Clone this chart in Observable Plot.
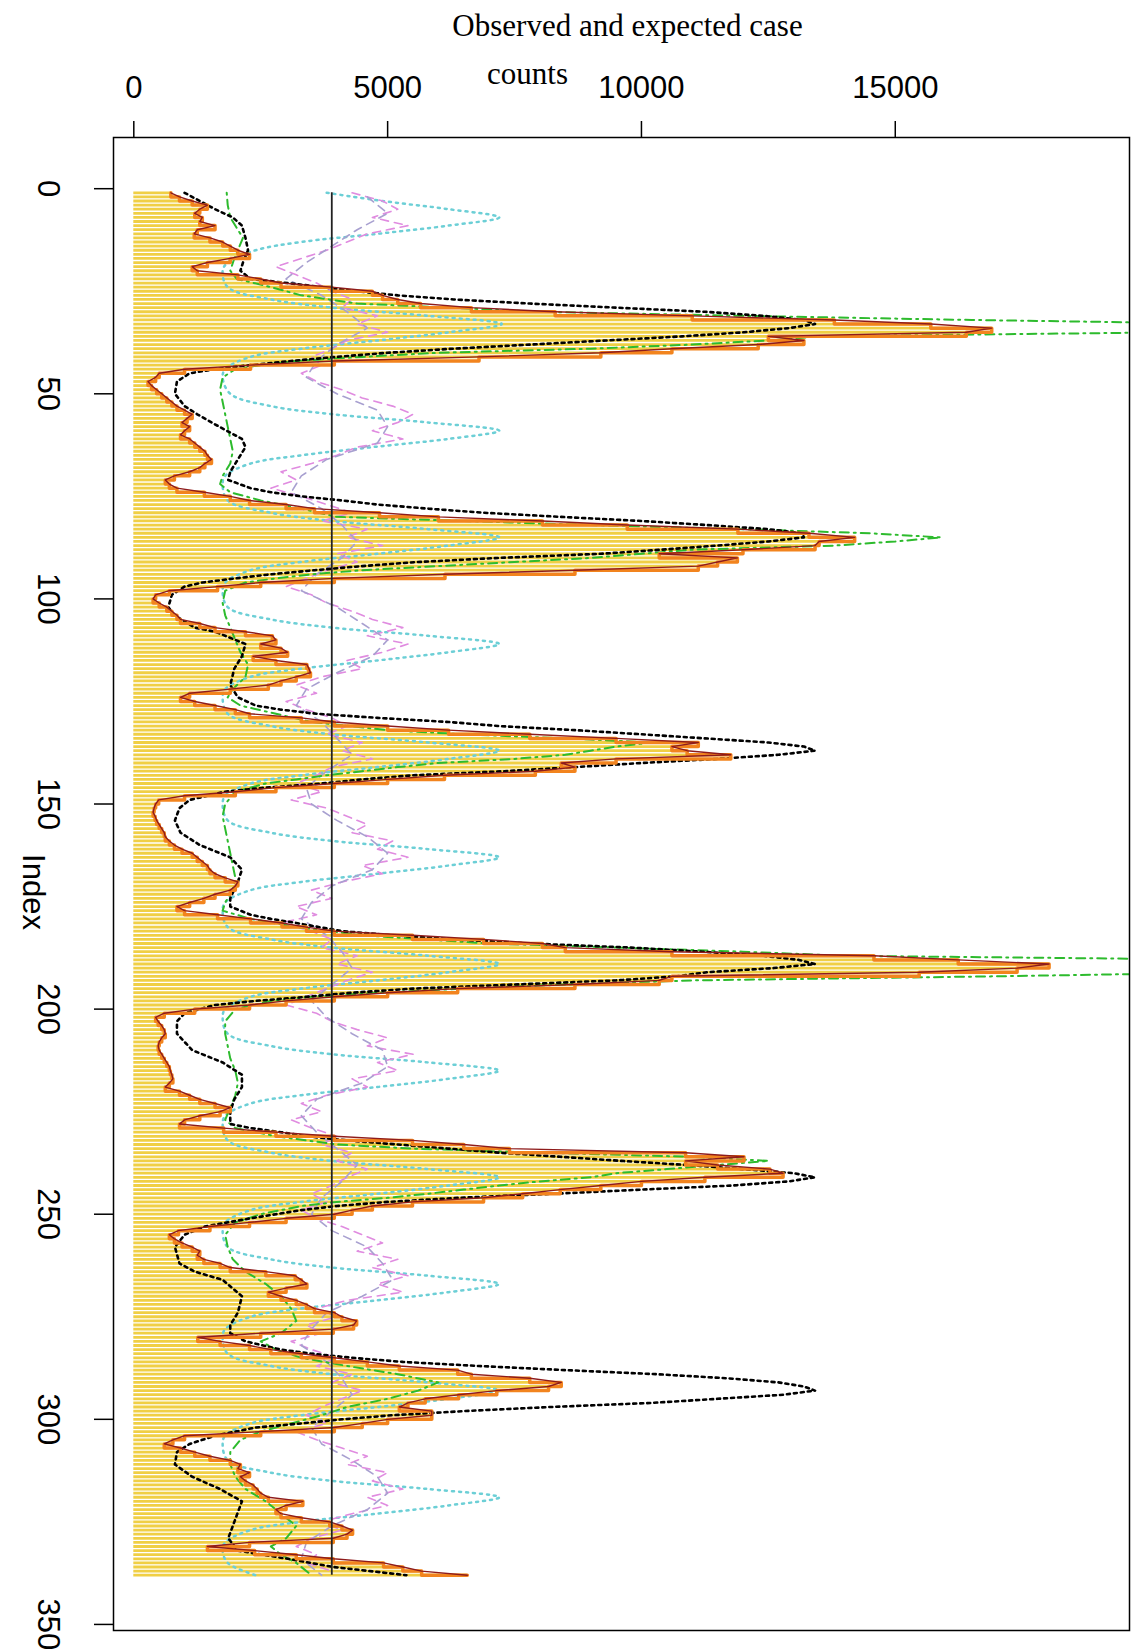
<!DOCTYPE html>
<html><head><meta charset="utf-8">
<script src="https://cdn.jsdelivr.net/npm/d3@7"></script>
<script src="https://cdn.jsdelivr.net/npm/@observablehq/plot@0.6"></script>
<style>body{margin:0;background:#fff}</style>
</head><body><div id="chart"></div>
<script>
const titleLine1 = "Observed and expected case";
const titleLine2 = "counts";
const yLabel = "Index";
const xTicks = [0, 5000, 10000, 15000];
const yTicks = [0, 50, 100, 150, 200, 250, 300, 350];
const threshold = 3900;

const index = d3.range(1, 339);
const observed = [
730,900,1150,1450,1300,1200,1350,1300,1600,1250,
1190,1500,1750,1900,2050,2280,1900,1450,1150,1250,
2050,2500,2900,3900,4700,4900,5200,5650,6650,8300,
11000,13800,15700,16900,16400,12500,13200,12300,10600,9200,
6800,3950,2300,1000,500,430,280,350,450,550,
650,750,850,1000,1150,1050,950,1100,1000,920,
1100,1200,1300,1400,1450,1530,1400,1300,1100,800,
620,700,850,1390,1900,2280,3000,3560,4840,6000,
8050,9720,11900,13300,14200,13500,13420,12000,10350,11890,
11500,11120,8690,6130,3950,2500,1650,700,430,380,
500,650,750,850,920,1300,1600,2200,2730,2800,
2500,2900,3030,2350,2800,3410,3450,3480,3200,2900,
2650,1900,1100,920,1200,1600,2000,2280,3300,3950,
5000,6200,7800,9500,11120,10600,10900,11760,9500,8420,
8690,7910,6120,5000,3950,2800,2000,1000,490,430,
400,380,420,450,500,550,600,620,700,800,
950,1150,1250,1350,1450,1500,1600,1800,2050,2000,
1900,1600,1380,1100,850,1000,1650,2300,2920,3400,
3950,5490,6890,8050,8500,10600,14580,16240,18030,17400,
15470,10600,10350,8690,6380,5000,3950,3000,2280,1200,
600,430,480,550,600,620,550,500,480,500,
550,600,650,700,720,750,770,700,620,900,
1100,1300,1600,1900,1700,1300,1000,900,1770,2800,
3950,5490,6500,7400,10870,12020,10870,11500,12530,12790,
11250,10000,9200,8400,7660,6890,5490,4700,4300,3950,
3000,2280,1500,880,700,800,950,1150,1300,1250,
1380,1700,1900,2600,3180,3300,3410,3000,2650,2900,
3200,3400,3560,3950,4100,4390,4330,3930,2500,1260,
1700,2280,2700,3300,3950,4600,5230,6380,6650,7800,
8420,8170,7150,6400,5740,5400,5230,5870,5870,5000,
4500,3950,2500,1000,770,600,920,1200,1500,1900,
2100,2050,2280,2100,2200,2350,2430,2500,2650,3330,
3000,2800,2900,3300,3860,4100,4310,4200,3930,2280,
1450,2380,3200,3930,4920,5300,5670,6570
];

const expectedBlack = [
[1,1000],[3,1300],[5,1600],[7,1950],[9,2130],[12,2200],[15,2250],[18,2150],[20,2100],[22,2300],[23,3030],[25,4400],[26,5200],[27,6300],[28,7800],[29,9500],[30,11250],[31,12400],[32,13200],[33,13420],[34,12900],[35,12020],[36,10800],[37,9300],[38,7800],[39,6300],[40,5000],[41,4000],[42,3100],[43,2300],[44,1600],[45,1100],[47,850],[50,810],[53,1000],[55,1250],[58,1680],[61,2130],[63,2200],[66,2050],[69,1900],[71,1860],[73,2300],[74,2700],[75,3300],[76,4100],[77,4800],[78,5800],[79,6900],[80,8400],[81,10000],[82,11300],[83,12500],[84,13170],[85,13200],[86,12500],[87,11500],[88,10400],[89,9200],[90,7200],[91,5600],[92,4500],[93,3560],[94,2700],[95,2000],[96,1350],[97,1000],[99,750],[102,680],[104,800],[107,1200],[108,1600],[111,2200],[114,2130],[117,1980],[121,1900],[124,2050],[126,2400],[127,2900],[128,3600],[129,4800],[130,6200],[131,7200],[132,8700],[133,10000],[134,11250],[135,12500],[136,13200],[137,13420],[138,12700],[139,11500],[140,10000],[141,8700],[142,7300],[143,5500],[144,4500],[145,3700],[146,2600],[147,1800],[149,1100],[151,900],[154,810],[157,920],[160,1300],[163,1900],[166,2130],[169,2050],[173,1900],[175,1900],[177,2300],[178,2700],[179,3200],[181,4100],[182,5100],[183,6300],[184,7800],[185,9800],[186,11200],[187,12400],[188,13100],[189,13420],[190,12600],[191,11300],[192,10700],[193,9500],[194,7500],[195,5500],[196,4300],[197,3400],[198,2400],[199,1600],[201,1000],[203,850],[206,850],[210,1150],[213,1750],[216,2130],[219,2130],[222,1980],[225,1900],[228,1900],[229,2300],[230,2900],[231,3400],[232,4200],[233,5200],[234,6200],[235,7200],[236,8400],[237,9600],[238,10900],[239,12000],[240,13000],[241,13420],[242,12900],[243,11800],[244,10000],[245,8300],[246,6400],[247,5000],[248,4000],[249,3300],[250,2800],[251,2300],[253,1400],[255,1000],[258,810],[262,900],[264,1200],[266,1750],[270,2130],[274,2050],[277,1900],[279,1900],[281,2200],[283,2900],[284,3500],[285,4300],[286,5300],[287,6800],[288,8500],[289,10300],[290,11700],[291,12700],[292,13200],[293,13420],[294,12800],[295,11500],[296,10200],[297,8200],[298,6500],[299,5100],[300,4100],[301,3300],[302,2400],[304,1600],[306,1100],[308,850],[311,810],[314,1150],[317,1700],[320,2130],[325,1980],[329,1860],[332,2050],[334,3030],[336,3930],[338,5370]
];

const expectedGreen = [
[1,1830],[4,1850],[7,1900],[10,2050],[12,2150],[15,2050],[17,1980],[20,1900],[22,2030],[24,2700],[26,3300],[28,4400],[30,8000],[31,12000],[32,16500],[33,22000],[34,22000],[35,20500],[36,13500],[37,12500],[38,11000],[39,9000],[40,6000],[41,4500],[42,3200],[43,2500],[44,2000],[46,1750],[49,1700],[52,1750],[55,1800],[58,1850],[61,1900],[64,1950],[67,1900],[70,1750],[72,1700],[74,1900],[76,2500],[78,3300],[80,4000],[81,6500],[82,9000],[83,12000],[84,14500],[85,15900],[86,15000],[87,13800],[88,11000],[89,10000],[90,9000],[91,7500],[92,6000],[93,4500],[94,3500],[95,2800],[96,2200],[98,1800],[101,1750],[104,1800],[107,1900],[110,2000],[113,2100],[116,2250],[119,2200],[122,1950],[124,1850],[126,2100],[128,2800],[130,3500],[132,5000],[133,6500],[134,8500],[135,10200],[136,9500],[137,9000],[138,8500],[139,7500],[140,6000],[141,5200],[142,4500],[143,3800],[144,3200],[145,2600],[147,2000],[150,1800],[153,1750],[156,1800],[159,1850],[162,1900],[165,1950],[168,2000],[171,1950],[174,1800],[176,1750],[178,2300],[180,3200],[182,4500],[184,7000],[185,9500],[186,12000],[187,14000],[188,22000],[189,23000],[190,23000],[191,22000],[192,17000],[193,11000],[194,8500],[195,6500],[196,4800],[197,3500],[198,2700],[200,2000],[203,1800],[206,1800],[209,1850],[212,1900],[215,2000],[218,2050],[221,2000],[224,1900],[227,1800],[229,2000],[231,2800],[233,4000],[234,5500],[235,8000],[236,11000],[237,12500],[238,11500],[239,10500],[240,9500],[241,9000],[242,8000],[243,7200],[244,6500],[245,5800],[246,5000],[247,4000],[248,3300],[250,2500],[252,2000],[255,1800],[258,1850],[261,1950],[264,2200],[267,2600],[270,2900],[273,3100],[276,3200],[279,2900],[281,2500],[283,2800],[285,3300],[287,4200],[289,5200],[291,6000],[293,5600],[295,5000],[297,4200],[299,3700],[301,3100],[303,2500],[305,2100],[308,1900],[311,1900],[314,2000],[317,2200],[320,2600],[323,2900],[326,3200],[329,3000],[331,2700],[333,2900],[335,3200],[338,3500]
];

const seasonalCyan = [
[1,3800],[3,4900],[5,6200],[7,7200],[9,6200],[11,4800],[13,3300],[15,2400],[18,1850],[20,1750],
[24,1850],[27,2700],[29,3900],[31,5800],[33,7250],[35,6200],[37,4800],[39,3300],[41,2300],[44,1800],[46,1750],
[50,1900],[53,2700],[55,3930],[57,5800],[59,7200],[61,6200],[63,4700],[65,3300],[67,2300],[70,1800],[72,1750],
[76,1850],[79,2700],[81,3900],[83,5800],[85,7200],[87,6200],[89,4800],[91,3300],[93,2300],[96,1800],[98,1750],
[102,1850],[105,2700],[107,3900],[109,5800],[111,7200],[113,6200],[115,4800],[117,3300],[119,2300],[122,1800],[124,1750],
[128,1850],[131,2700],[133,3900],[135,5800],[137,7200],[139,6200],[141,4800],[143,3300],[145,2300],[148,1800],[150,1750],
[154,1850],[157,2700],[159,3900],[161,5800],[163,7200],[165,6200],[167,4800],[169,3300],[171,2300],[174,1800],[176,1750],
[180,1850],[183,2700],[185,3900],[187,5800],[189,7200],[191,6200],[193,4800],[195,3300],[197,2300],[200,1800],[202,1750],
[206,1850],[209,2700],[211,3900],[213,5800],[215,7200],[217,6200],[219,4800],[221,3300],[223,2300],[226,1800],[228,1750],
[232,1850],[235,2700],[237,3900],[239,5800],[241,7200],[243,6200],[245,4800],[247,3300],[249,2300],[252,1800],[254,1750],
[258,1850],[261,2700],[263,3900],[265,5800],[267,7200],[269,6200],[271,4800],[273,3300],[275,2300],[278,1800],[280,1750],
[284,1850],[287,2700],[289,3900],[291,5800],[293,7200],[295,6200],[297,4800],[299,3300],[301,2300],[304,1800],[306,1750],
[310,1850],[313,2700],[315,3900],[317,5800],[319,7200],[321,6200],[323,4800],[325,3300],[327,2300],[330,1800],[332,1750],[335,1850],[338,2400]
];

const pinkIndex = d3.range(1, 338, 2);
const pinkDashed = [
4300,4900,5200,4700,5400,4600,4200,3800,3300,2800,
3200,3600,3900,4300,4100,4800,4400,5000,4200,3900,
3500,3700,3300,3600,4100,4500,5100,5500,5200,4700,
5300,4400,4000,3500,2900,3200,2700,3300,3800,4300,
3700,4600,4200,4900,4000,4400,3800,3400,3000,3500,
3800,4300,4700,5300,4600,5400,4900,4200,4500,3700,
3200,3600,3000,3400,3900,4200,3800,4500,4100,4700,
3900,3600,3200,3700,3100,3800,4200,4600,4300,5100,
4800,5400,4500,4900,4100,3500,3900,3200,3600,2900,
3500,3900,3700,4400,4000,4700,4200,3800,3400,3000,
3600,3900,4400,5000,4600,5500,4800,5200,4300,4600,
3800,3300,3700,3100,3500,4000,3700,4300,4000,4600,
4200,3900,3500,3800,3300,3600,4100,4500,4900,4400,
5200,4700,5400,4800,5300,4200,3600,4000,3400,3700,
3100,3500,4000,3600,4300,3900,4500,4100,3700,3400,
3800,3200,3600,4100,4600,4200,5000,4700,5300,4600,
5000,4300,3700,4100,3500,3200,3600,3400,3900
];

const lavenderIndex = d3.range(2, 339, 4);
const lavenderDashed = [
4600,5000,4400,3900,3400,3000,3700,4200,4600,4000,
3600,3400,4000,4800,5000,4800,3800,3300,3100,3700,
4100,4400,4100,3600,3300,4000,4500,5000,4700,4000,
3400,3200,3700,4000,4300,3800,3400,3500,4000,4600,
5000,4700,3900,3500,3300,3800,4100,4300,3900,3500,
3800,4300,4900,5000,4500,3600,3300,3600,4000,4400,
4100,3700,3500,3900,4600,4900,5100,4500,3800,3500,
3300,3800,4100,4300,3900,3500,3700,4300,4800,5000,
4600,3900,3400,3300,3700
];

const obsData = index.map((i, k) => ({i, v: observed[k]}));
const pinkData = pinkIndex.slice(0, pinkDashed.length).map((i, k) => ({i, v: pinkDashed[k]}));
const lavData = lavenderIndex.slice(0, lavenderDashed.length).map((i, k) => ({i, v: lavenderDashed[k]}));
const pairX = d => d[1], pairY = d => d[0];

const chart = Plot.plot({
  width: 1139, height: 1649,
  marginLeft: 113, marginRight: 10, marginTop: 137, marginBottom: 19,
  style: {fontFamily: "Liberation Sans, Arial, sans-serif", fontSize: "31px", background: "#fff", color: "#000", overflow: "visible"},
  x: {domain: [-400, 19614], axis: null},
  y: {domain: [-12.48, 351.48], reverse: true, axis: null},
  marks: [
    Plot.ruleY(obsData, {y: "i", x1: 0, x2: "v", stroke: "#F0CF45", strokeWidth: 2.8}),
    Plot.line(seasonalCyan, {x: pairX, y: pairY, stroke: "#6CCFD6", strokeWidth: 2.5, strokeDasharray: "2,5", curve: "catmull-rom"}),
    Plot.line(pinkData, {x: "v", y: "i", stroke: "#E08CE0", strokeWidth: 1.6, strokeDasharray: "8,6"}),
    Plot.line(lavData, {x: "v", y: "i", stroke: "#A8A0D0", strokeWidth: 1.6, strokeDasharray: "8,6"}),
    Plot.line(expectedGreen, {x: pairX, y: pairY, stroke: "#2DBB2D", strokeWidth: 2, strokeDasharray: "2,5,9,5", clip: true}),
    Plot.line(expectedBlack, {x: pairX, y: pairY, stroke: "#000", strokeWidth: 2.6, strokeDasharray: "3,4"}),
    Plot.line(obsData, {x: "v", y: "i", stroke: "#F2841E", strokeWidth: 3.5, curve: "step-before"}),
    Plot.line(obsData, {x: "v", y: "i", stroke: "#8E1B1B", strokeWidth: 1.4}),
    Plot.ruleX([threshold], {x: d => d, y1: index[0], y2: index[index.length - 1], stroke: "#222", strokeWidth: 1.8}),
    Plot.frame({stroke: "#000", strokeWidth: 1.5}),
    Plot.axisX({anchor: "top", ticks: xTicks, tickSize: 17, tickPadding: 23, tickFormat: d3.format("d"), label: null, strokeWidth: 1.5, fontSize: 31}),
    Plot.axisY({anchor: "left", ticks: yTicks, tickSize: 19, tickFormat: () => "", label: null, strokeWidth: 1.5}),
    Plot.text(yTicks, {y: d => d, text: d => String(d), frameAnchor: "left", dx: -66, rotate: 90, fontSize: 31, textAnchor: "middle", lineAnchor: "middle"}),
    Plot.text([yLabel], {text: d => d, frameAnchor: "left", dx: -81, dy: 8, rotate: 90, fontSize: 31, textAnchor: "middle", lineAnchor: "middle"}),
    Plot.text([titleLine1], {text: d => d, frameAnchor: "top", dx: 6, dy: -102, lineAnchor: "bottom", fontFamily: "Liberation Serif, Times New Roman, serif", fontSize: 31}),
    Plot.text([titleLine2], {text: d => d, frameAnchor: "top", dx: -94, dy: -54, lineAnchor: "bottom", fontFamily: "Liberation Serif, Times New Roman, serif", fontSize: 31})
  ]
});
document.getElementById("chart").append(chart);
</script>
</body></html>
